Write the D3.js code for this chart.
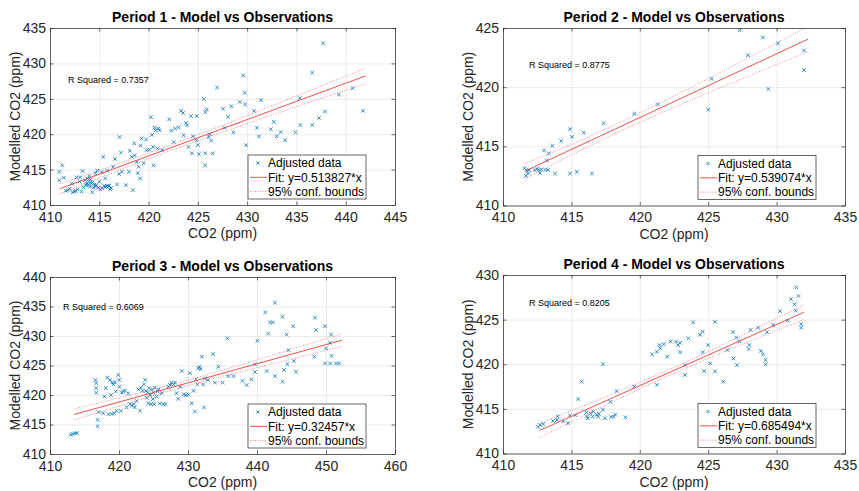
<!DOCTYPE html>
<html>
<head>
<meta charset="utf-8">
<script src="https://cdn.jsdelivr.net/npm/d3@7"></script>
<style>
  body { margin: 0; background: #fff; }
  svg { display: block; font-family: "Liberation Sans", Arial, Helvetica, sans-serif; }
</style>
</head>
<body>
<div id="chart"></div>
<script>
// ---- data ----
const p1Points = [
  [410.95,414.7],[410.95,413.5],[411.25,415.6],[411.4,413.85],[411.6,412.0],[411.8,412.1],[412.2,413.0],[412.3,411.8],
  [412.5,411.9],[412.7,413.9],[412.8,412.2],[413.0,413.3],[413.05,413.9],[413.2,411.9],[413.3,414.8],[413.55,413.5],
  [413.65,412.8],[413.8,413.75],[413.9,413.3],[414.0,414.1],[414.05,412.6],[414.2,413.05],[414.3,411.8],[414.4,412.45],
  [414.6,414.45],[414.7,412.8],[414.8,414.85],[414.9,412.45],[415.0,413.3],[415.1,412.2],[415.25,414.65],[415.4,416.8],
  [415.5,412.7],[415.6,413.75],[415.75,412.6],[415.8,414.85],[416.0,412.7],[416.1,412.2],[416.4,415.4],[416.6,416.5],
  [416.8,412.9],[417.0,414.4],[417.05,419.6],[417.2,417.4],[417.3,414.7],[417.7,412.8],[418.0,414.7],[418.1,417.65],
  [418.3,416.8],[418.4,412.1],[418.55,418.7],[418.6,417.0],[418.8,416.1],[418.9,414.5],[419.0,415.4],[419.15,413.75],
  [419.2,418.4],[419.3,419.4],[419.5,415.9],[419.75,419.25],[419.8,417.75],[420.1,417.8],[420.25,422.4],[420.35,419.9],
  [420.45,418.2],[420.5,415.6],[420.6,420.9],[420.7,420.55],[420.9,418.0],[421.0,420.8],[421.1,420.55],[421.35,417.75],
  [422.1,422.1],[422.3,420.5],[422.55,418.9],[422.7,420.8],[423.05,420.95],[423.3,423.3],[423.5,423.0],[423.55,419.85],
  [423.8,421.6],[423.9,421.25],[424.05,418.2],[424.3,422.55],[424.4,417.3],[424.5,419.7],[424.85,419.15],[424.9,422.55],
  [425.0,418.45],[425.1,417.2],[425.6,425.0],[425.75,417.3],[425.75,415.6],[425.75,423.1],[425.9,423.5],[426.1,419.6],
  [426.2,420.0],[426.35,419.1],[426.5,417.3],[426.95,426.6],[427.55,423.6],[427.7,420.9],[428.05,422.45],[428.4,423.95],
  [428.6,420.25],[429.25,424.55],[429.6,428.3],[429.75,425.85],[429.8,424.2],[429.9,418.45],[430.7,423.3],[431.0,420.9],
  [431.2,419.7],[431.4,424.8],[432.4,420.7],[432.7,421.75],[433.0,419.7],[433.4,420.3],[433.85,419.15],[434.9,420.25],
  [435.35,425.1],[435.4,421.3],[436.6,421.3],[436.6,428.7],[437.3,422.3],[437.7,432.85],[437.9,423.2],[439.3,425.6],
  [440.7,426.5],[441.75,423.3],
  [412.0,412.3],[412.6,412.0],[413.4,412.5],[413.9,412.9],[414.1,413.6],[414.3,413.2],[414.6,412.6],[415.3,412.4],
  [415.9,412.75],[413.7,413.0],[414.5,412.9],[415.6,412.55],[416.2,412.4]
];
const p2Points = [
  [411.58,413.15],[411.68,412.5],[411.75,412.95],[411.82,412.7],[411.9,413.0],[412.3,413.0],[412.5,413.1],[412.6,413.0],
  [412.7,412.75],[412.8,413.05],[413.0,414.65],[413.1,413.0],[413.2,413.8],[413.3,413.0],[413.35,414.4],[413.6,415.05],
  [413.8,412.7],[414.25,415.45],[414.9,416.45],[414.9,412.7],[415.05,415.8],[415.4,412.85],[415.9,416.15],[416.5,412.7],
  [417.35,416.95],[419.6,417.75],[421.3,418.55],[425.0,418.1],[425.25,420.7],[427.3,424.8],[427.9,422.7],[429.0,424.2],
  [429.4,419.85],[430.1,423.7],[432.0,423.1],[432.0,421.45]
];
const p3Points = [
  [413.0,413.26],[413.3,413.4],[413.6,413.5],[413.9,413.55],[416.6,422.55],[416.7,422.0],[416.7,421.15],[416.7,420.4],
  [416.9,414.7],[416.9,415.8],[417.05,417.1],[417.7,416.9],[417.9,419.75],[418.1,421.15],[418.3,422.95],[418.5,416.75],
  [418.7,422.55],[418.85,420.0],[418.95,416.8],[419.0,422.1],[419.2,421.8],[419.3,416.9],[419.4,422.15],[419.55,420.6],
  [419.65,417.3],[419.9,423.4],[420.05,422.55],[420.05,421.4],[420.25,417.3],[420.4,420.4],[420.6,420.6],[420.85,420.75],
  [421.1,417.9],[421.35,420.3],[421.6,418.45],[421.85,418.2],[422.1,418.45],[422.3,417.9],[422.55,419.0],[422.8,420.95],
  [423.05,417.35],[423.2,421.25],[423.4,420.7],[423.6,421.8],[423.8,422.55],[423.9,420.7],[424.0,419.55],[424.15,420.4],
  [424.25,418.6],[424.4,421.15],[424.5,420.0],[424.65,418.45],[424.8,420.95],[424.9,419.3],[425.0,420.4],[425.1,418.45],
  [425.2,421.25],[425.45,419.75],[425.6,420.6],[425.75,420.95],[425.9,418.55],[426.2,420.3],[426.4,418.45],[426.75,418.45],
  [427.15,421.4],[427.4,421.7],[427.6,422.1],[427.9,421.8],[428.1,422.1],[428.35,420.3],[428.6,419.35],[428.85,421.4],
  [429.1,424.05],[429.4,420.1],[429.7,420.0],[430.05,420.1],[430.3,423.7],[430.55,418.6],[430.8,420.7],[431.0,417.2],
  [431.15,422.65],[431.35,421.8],[431.5,424.5],[431.65,424.8],[431.85,424.4],[432.0,426.5],[432.2,421.8],[432.3,417.9],
  [432.45,422.8],[432.9,422.55],[433.65,426.95],[433.9,422.1],[434.4,424.8],[435.0,422.1],[435.7,429.6],[435.85,423.2],
  [436.6,423.2],[437.9,422.4],[438.5,421.7],[439.2,422.65],[439.7,425.2],[439.7,423.9],[440.05,429.2],[441.2,434.0],
  [441.4,424.05],[441.65,430.4],[441.9,432.3],[442.3,432.3],[442.6,423.2],[442.6,435.65],[443.7,433.25],[443.7,422.25],
  [443.9,424.25],[444.3,430.25],[444.4,425.25],[444.55,427.6],[445.25,431.65],[445.35,425.75],[445.65,423.95],[448.4,433.1],
  [448.55,431.0],[448.3,426.5],[449.85,431.65],[450.0,427.9],[449.85,425.35],[450.6,428.85],[450.6,425.35],[450.75,430.25],
  [450.8,426.65],[451.45,425.35],[451.9,425.35]
];
const p4Points = [
  [412.55,413.0],[412.7,413.2],[412.95,413.3],[413.65,413.65],[413.95,413.75],[414.0,414.15],[414.4,413.6],[414.75,413.4],
  [414.9,414.25],[415.3,414.3],[415.5,416.1],[415.75,418.05],[416.1,414.6],[416.15,414.15],[416.2,413.95],[416.4,414.5],
  [416.55,414.15],[416.6,414.7],[416.85,414.35],[416.95,414.15],[417.0,414.45],[417.3,420.0],[417.3,414.9],[417.45,413.95],
  [417.85,415.8],[417.9,414.1],[418.1,414.15],[418.2,414.35],[418.3,417.0],[418.95,414.05],[419.6,417.5],[420.9,421.1],
  [421.25,417.7],[421.25,421.4],[421.45,422.15],[421.5,421.8],[421.75,422.25],[422.0,420.85],[422.25,422.55],[422.65,422.55],
  [422.8,422.15],[422.95,422.4],[422.95,421.35],[423.3,418.8],[423.3,419.9],[423.55,422.9],[423.9,424.7],[424.4,423.3],
  [424.6,421.35],[424.6,423.65],[424.7,419.25],[425.0,422.15],[425.15,420.1],[425.5,419.2],[425.5,424.75],[426.1,418.05],
  [426.4,421.6],[426.8,423.6],[426.85,420.65],[427.05,423.0],[427.1,419.9],[427.3,422.55],[427.95,421.7],[428.0,422.15],
  [428.1,423.85],[428.65,424.1],[428.85,421.5],[429.0,421.1],[429.2,420.5],[429.2,420.0],[429.3,423.6],[429.75,424.4],
  [430.25,425.95],[430.8,424.9],[431.05,427.3],[431.3,426.7],[431.4,426.0],[431.45,428.6],[431.6,427.65],[431.8,424.5],
  [431.8,424.1]
];

// fitted line end points and confidence bounds (x, upper, lower)
const fitLines = [
  [[411.0, 412.3], [442.0, 428.23]],
  [[411.6, 412.9], [432.3, 424.06]],
  [[413.5, 416.7], [452.3, 429.29]],
  [[412.7, 412.6], [432.0, 425.83]]
];
const boundX = [
  [411, 416, 421, 426, 431, 436, 442],
  [411.6, 415, 418, 421, 425, 429, 432.3],
  [413.5, 420, 427, 434, 441, 447, 452.3],
  [412.7, 416, 419, 422, 425, 428, 432]
];
const boundUpper = [
  [413.0, 415.37, 417.84, 420.46, 423.18, 425.95, 429.33],
  [413.55, 415.18, 416.73, 418.39, 420.72, 423.13, 425.11],
  [417.65, 419.51, 421.56, 423.85, 426.33, 428.47, 430.34],
  [413.40, 415.41, 417.32, 419.31, 421.41, 423.64, 426.63]
];
const boundLower = [
  [411.6, 414.37, 417.04, 419.56, 421.98, 424.35, 427.13],
  [412.25, 414.28, 415.97, 417.55, 419.52, 421.43, 423.01],
  [415.75, 418.11, 420.60, 422.85, 424.93, 426.67, 428.24],
  [411.80, 414.31, 416.52, 418.65, 420.65, 422.54, 425.03]
];

const titles = [
  'Period 1 - Model vs Observations',
  'Period 2 - Model vs Observations',
  'Period 3 - Model vs Observations',
  'Period 4 - Model vs Observations'
];
const rSquared = ['0.7357', '0.8775', '0.6069', '0.8205'];
const fitLabels = ['Fit: y=0.513827*x', 'Fit: y=0.539074*x', 'Fit: y=0.32457*x', 'Fit: y=0.685494*x'];
const xTicks = [
  [410, 415, 420, 425, 430, 435, 440, 445],
  [410, 415, 420, 425, 430, 435],
  [410, 420, 430, 440, 450, 460],
  [410, 415, 420, 425, 430, 435]
];
const yTicks = [
  [410, 415, 420, 425, 430, 435],
  [410, 415, 420, 425],
  [410, 415, 420, 425, 430, 435, 440],
  [410, 415, 420, 425, 430]
];
const allPoints = [p1Points, p2Points, p3Points, p4Points];

// ---- layout ----
const W = 859, H = 491;
const boxes = [
  { left: 50, top: 28, w: 345, h: 177 },
  { left: 503, top: 28, w: 342, h: 177.5 },
  { left: 50, top: 277, w: 345, h: 177 },
  { left: 503, top: 275, w: 342, h: 178.5 }
];
const rPos = [[68, 83], [529, 68], [63, 310], [529, 306]];

const axisColor = '#262626';
const gridColor = '#e3e3e3';
const blue = '#0072BD';
const red = '#e8403a';

const svg = d3.select('#chart').append('svg')
  .attr('width', W)
  .attr('height', H);
svg.append('rect').attr('width', W).attr('height', H).attr('fill', '#fff');

function drawX(g, x, y, s) {
  g.append('path')
    .attr('d', `M${x - s},${y - s}L${x + s},${y + s}M${x - s},${y + s}L${x + s},${y - s}`)
    .attr('stroke', blue)
    .attr('stroke-width', 0.8)
    .attr('fill', 'none');
}

boxes.forEach((b, i) => {
  const xt = xTicks[i], yt = yTicks[i];
  const x = d3.scaleLinear().domain([xt[0], xt[xt.length - 1]]).range([0, b.w]);
  const y = d3.scaleLinear().domain([yt[0], yt[yt.length - 1]]).range([b.h, 0]);

  const g = svg.append('g').attr('transform', `translate(${b.left},${b.top})`);

  // grid
  g.append('g')
    .attr('transform', `translate(0,${b.h})`)
    .call(d3.axisBottom(x).tickValues(xt).tickSize(-b.h).tickFormat(''))
    .call(a => a.select('.domain').remove())
    .call(a => a.selectAll('line').attr('stroke', gridColor).attr('stroke-width', 0.7));
  g.append('g')
    .call(d3.axisLeft(y).tickValues(yt).tickSize(-b.w).tickFormat(''))
    .call(a => a.select('.domain').remove())
    .call(a => a.selectAll('line').attr('stroke', gridColor).attr('stroke-width', 0.7));

  // clip area for plot contents
  const clipId = 'clip' + i;
  g.append('clipPath').attr('id', clipId)
    .append('rect').attr('width', b.w).attr('height', b.h);
  const plot = g.append('g').attr('clip-path', `url(#${clipId})`);

  // scatter
  allPoints[i].forEach(p => drawX(plot, x(p[0]), y(p[1]), 1.8));

  // confidence bounds
  const line = d3.line().curve(d3.curveMonotoneX);
  [boundUpper[i], boundLower[i]].forEach(vals => {
    plot.append('path')
      .attr('d', line(boundX[i].map((v, k) => [x(v), y(vals[k])])))
      .attr('fill', 'none')
      .attr('stroke', red)
      .attr('stroke-opacity', 0.75)
      .attr('stroke-width', 0.8)
      .attr('stroke-dasharray', '1,1.5');
  });

  // fit line
  plot.append('path')
    .attr('d', d3.line()(fitLines[i].map(p => [x(p[0]), y(p[1])])))
    .attr('fill', 'none')
    .attr('stroke', red)
    .attr('stroke-width', 0.9);

  // axes (ticks pointing inward, mirrored)
  const fmt = d3.format('d');
  const styleAxis = a => {
    a.select('.domain').attr('stroke', axisColor).attr('stroke-width', 0.7);
    a.selectAll('.tick line').attr('stroke', axisColor).attr('stroke-width', 0.7);
    a.selectAll('text').attr('fill', axisColor).style('font-size', '14px');
  };
  g.append('g')
    .attr('transform', `translate(0,${b.h})`)
    .call(d3.axisBottom(x).tickValues(xt).tickFormat(fmt).tickSize(-3.5).tickPadding(7).tickSizeOuter(0))
    .call(styleAxis);
  g.append('g')
    .call(d3.axisLeft(y).tickValues(yt).tickFormat(fmt).tickSize(-3.5).tickPadding(4).tickSizeOuter(0))
    .call(styleAxis);
  g.append('g')
    .call(d3.axisTop(x).tickValues(xt).tickFormat('').tickSize(-3.5).tickSizeOuter(0))
    .call(styleAxis);
  g.append('g')
    .attr('transform', `translate(${b.w},0)`)
    .call(d3.axisRight(y).tickValues(yt).tickFormat('').tickSize(-3.5).tickSizeOuter(0))
    .call(styleAxis);

  // title and axis labels
  g.append('text')
    .attr('x', b.w / 2).attr('y', -6)
    .attr('text-anchor', 'middle')
    .style('font-size', '14px').style('font-weight', 'bold')
    .attr('fill', '#000')
    .text(titles[i]);
  g.append('text')
    .attr('x', b.w / 2).attr('y', b.h + 33)
    .attr('text-anchor', 'middle')
    .style('font-size', '14px')
    .attr('fill', axisColor)
    .text('CO2 (ppm)');
  g.append('text')
    .attr('transform', `translate(-30,${b.h / 2}) rotate(-90)`)
    .attr('text-anchor', 'middle')
    .style('font-size', '14px')
    .attr('fill', axisColor)
    .text('Modelled CO2 (ppm)');

  // R squared annotation
  svg.append('text')
    .attr('x', rPos[i][0]).attr('y', rPos[i][1])
    .style('font-size', '9px')
    .attr('fill', '#000')
    .text('R Squared = ' + rSquared[i]);

  // legend
  const lw = 118, lh = 44;
  const lg = g.append('g').attr('transform', `translate(${b.w - 29 - lw},${b.h - 6 - lh})`);
  lg.append('rect')
    .attr('width', lw).attr('height', lh)
    .attr('fill', '#fff')
    .attr('stroke', axisColor).attr('stroke-width', 0.7);
  const rows = ['Adjusted data', fitLabels[i], '95% conf. bounds'];
  rows.forEach((r, k) => {
    const ry = 8 + k * 14.3;
    if (k === 0) {
      drawX(lg, 10, ry, 1.5);
    } else {
      lg.append('line')
        .attr('x1', 2).attr('x2', 19).attr('y1', ry).attr('y2', ry)
        .attr('stroke', red)
        .attr('stroke-width', 0.9)
        .attr('stroke-opacity', k === 2 ? 0.75 : 1)
        .attr('stroke-dasharray', k === 2 ? '1,1.5' : null);
    }
    lg.append('text')
      .attr('x', 20).attr('y', ry).attr('dy', '0.35em')
      .style('font-size', '12px')
      .attr('fill', '#000')
      .text(r);
  });
});
</script>
</body>
</html>
